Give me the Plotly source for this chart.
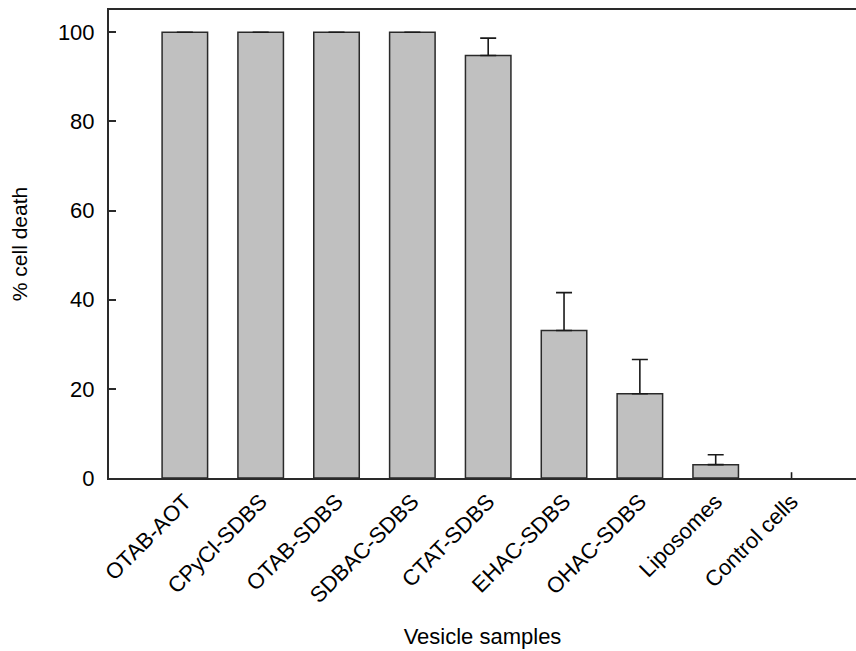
import plotly.graph_objects as go

categories = ["OTAB-AOT", "CPyCl-SDBS", "OTAB-SDBS", "SDBAC-SDBS", "CTAT-SDBS",
              "EHAC-SDBS", "OHAC-SDBS", "Liposomes", "Control cells"]
values = [100, 100, 100, 100, 94.8, 33.1, 18.9, 3.0, 0]
errors = [0, 0, 0, 0, 3.9, 8.5, 7.7, 2.2, 1.3]

xs = list(range(len(categories)))
font = "Liberation Sans, Arial, sans-serif"

fig = go.Figure()
fig.add_trace(go.Bar(
    x=xs[:-1], y=values[:-1], width=0.6,
    marker=dict(color="#c0c0c0", line=dict(color="#2a2a2a", width=1.5)),
    error_y=dict(type="data", array=errors[:-1], symmetric=False, arrayminus=[0]*8,
                 color="#1a1a1a", thickness=1.6, width=8, visible=True),
    showlegend=False,
))
fig.add_trace(go.Bar(
    x=xs[-1:], y=values[-1:], width=0.6,
    marker=dict(color="#c0c0c0", line=dict(color="rgba(0,0,0,0)", width=0)),
    error_y=dict(type="data", array=errors[-1:], symmetric=False, arrayminus=[0],
                 color="#1a1a1a", thickness=1.6, width=0, visible=True),
    showlegend=False,
))

fig.update_layout(
    width=856, height=651,
    margin=dict(l=109, r=0, t=10, b=173),
    plot_bgcolor="white", paper_bgcolor="white",
    font=dict(family=font, size=22, color="black"),
    xaxis=dict(
        range=[-1, 8.85], tickmode="array", tickvals=xs, ticktext=categories,
        tickangle=-45, showgrid=False, zeroline=False,
        showline=True, linecolor="#2a2a2a", linewidth=2, mirror=True,
        ticks="", tickfont=dict(size=22, family=font),
        title=dict(text="Vesicle samples", font=dict(size=22, family=font), standoff=22),
    ),
    yaxis=dict(
        range=[0, 105], tickvals=[0, 20, 40, 60, 80, 100],
        showgrid=False, zeroline=False,
        showline=True, linecolor="#2a2a2a", linewidth=2, mirror=False,
        ticks="inside", ticklen=7, tickwidth=2, tickcolor="#2a2a2a",
        ticklabelstandoff=8,
        tickfont=dict(size=22, family=font),
        title=dict(text="% cell death", font=dict(size=21, family=font), standoff=25),
    ),
    bargap=0.4,
)

fig.write_html("out.html")
